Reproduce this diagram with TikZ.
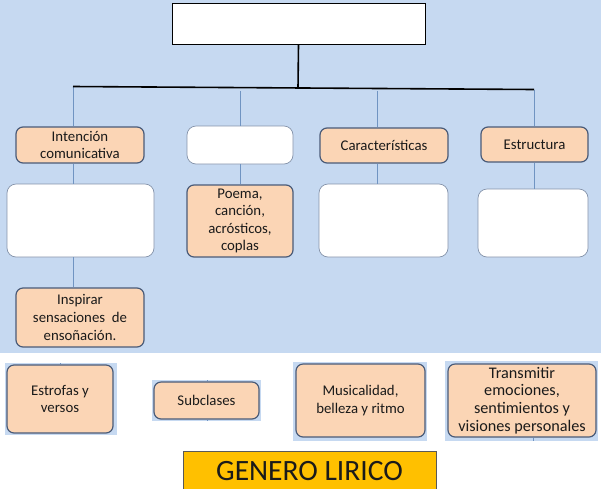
\documentclass[tikz,border=0pt]{standalone}
\usepackage{fontspec}
\setmainfont{Carlito}
\definecolor{bgblue}{HTML}{C6D9F1}
\definecolor{orng}{HTML}{FBD5B5}
\definecolor{bord}{HTML}{4A5B78}
\definecolor{thinl}{HTML}{7094C2}
\definecolor{gold}{HTML}{FFC000}
\definecolor{goldbord}{HTML}{595959}
\definecolor{wbord}{HTML}{8593AA}
\definecolor{txt}{HTML}{1A1A1A}
\tikzset{
  obox/.style={rounded corners=7pt, fill=orng, draw=bord, line width=1.2pt, align=center,
    inner sep=0pt, text=txt, font=\fontsize{14.8}{17.6}\selectfont},
  wbox/.style={rounded corners=9pt, fill=white, draw=wbord, line width=0.7pt, inner sep=0pt},
  thin/.style={draw=thinl, line width=1pt},
  thick/.style={draw=black, line width=1.6pt},
}
\begin{document}
\begin{tikzpicture}[x=1pt,y=-1pt]
\useasboundingbox (0,0) rectangle (601,488);
\fill[bgblue] (0,0) rectangle (601,353);
% patches behind bottom boxes
\fill[bgblue] (5,363) rectangle (117,435);
\fill[bgblue] (152,380) rectangle (261,421);
\fill[bgblue] (293,362) rectangle (427,441);
\fill[bgblue] (445,361) rectangle (598,441);

% top box
\node[draw=black, fill=white, line width=1pt, minimum width=253pt, minimum height=41pt, inner sep=0pt] (top) at (298.5,23.5) {};

% level 1
\node[obox, minimum width=128pt, minimum height=36pt] (int) at (80,145) {Intención\\comunicativa};
\node[wbox, minimum width=106pt, minimum height=38pt] (w2) at (240,145) {};
\node[obox, minimum width=128pt, minimum height=35pt] (car) at (384,145.5) {Características};
\node[obox, minimum width=107pt, minimum height=35pt] (est) at (534.5,144.5) {Estructura};

% level 2
\node[wbox, minimum width=147pt, minimum height=73pt] (wb1) at (80.5,220.5) {};
\node[obox, minimum width=106pt, minimum height=72pt] (poema) at (240,221) {Poema,\\canción,\\acrósticos,\\coplas};
\node[wbox, minimum width=129pt, minimum height=73pt] (wb3) at (383.5,220.5) {};
\node[wbox, minimum width=110pt, minimum height=68pt] (wb4) at (533,223) {};

% level 3
\node[obox, minimum width=128pt, minimum height=59pt] (insp) at (80,317.5) {Inspirar\\sensaciones~ de\\ensoñación.};

% bottom row
\node[obox, minimum width=106pt, minimum height=68pt] (estr) at (60,399) {Estrofas y\\versos};
\node[obox, minimum width=105pt, minimum height=37pt] (sub) at (206.5,400.5) {Subclases};
\node[obox, minimum width=129pt, minimum height=73pt] (mus) at (360.5,400.5) {Musicalidad,\\belleza y ritmo};
\node[obox, minimum width=148pt, minimum height=73pt, font=\fontsize{16.2}{17.8}\selectfont] (tra) at (522,400.5) {Transmitir\\emociones,\\sentimientos y\\visiones personales};

% title
\node[fill=gold, draw=goldbord, line width=1pt, minimum width=253pt, minimum height=40pt, inner sep=0pt,
  text=txt, font=\fontsize{29.5}{34}\selectfont, anchor=north] (gen) at (309.5,451) {GENERO LIRICO};

% coordinates
\coordinate (hl) at (73,86.5);
\coordinate (hr) at (534,89.5);
\coordinate (hm) at (298,88);
\coordinate (xa) at (73,0);
\coordinate (xb) at (240,0);
\coordinate (xc) at (377,0);
\coordinate (xd) at (534,0);
\coordinate (xb2) at (240,91);
\coordinate (xc2) at (377,91);

% thin connectors
\draw[thin] (hl) -- (int.north -| xa);
\draw[thin] (xb2) -- (w2.north -| xb);
\draw[thin] (xc2) -- (car.north -| xc);
\draw[thin] (hr) -- (est.north -| xd);
\draw[thin] (int.south -| xa) -- (wb1.north -| xa);
\draw[thin] (w2.south -| xb) -- (poema.north -| xb);
\draw[thin] (car.south -| xc) -- (wb3.north -| xc);
\draw[thin] (est.south -| xd) -- (wb4.north -| xd);
\draw[thin] (wb1.south -| xa) -- (insp.north -| xa);

% tiny stubs
\coordinate (s1) at (60,363);
\draw[thin] (s1) -- (estr.north -| s1);
\coordinate (s2) at (207,380);
\coordinate (s3) at (207,421);
\draw[thin] (s2) -- (sub.north -| s2);
\draw[thin] (sub.south -| s3) -- (s3);
\coordinate (s4) at (533,441);
\draw[thin] (tra.south -| s4) -- (s4);

% black connectors
\draw[thick] (top.south) -- (hm);
\draw[thick] (hl) -- (hr);
\end{tikzpicture}
\end{document}
